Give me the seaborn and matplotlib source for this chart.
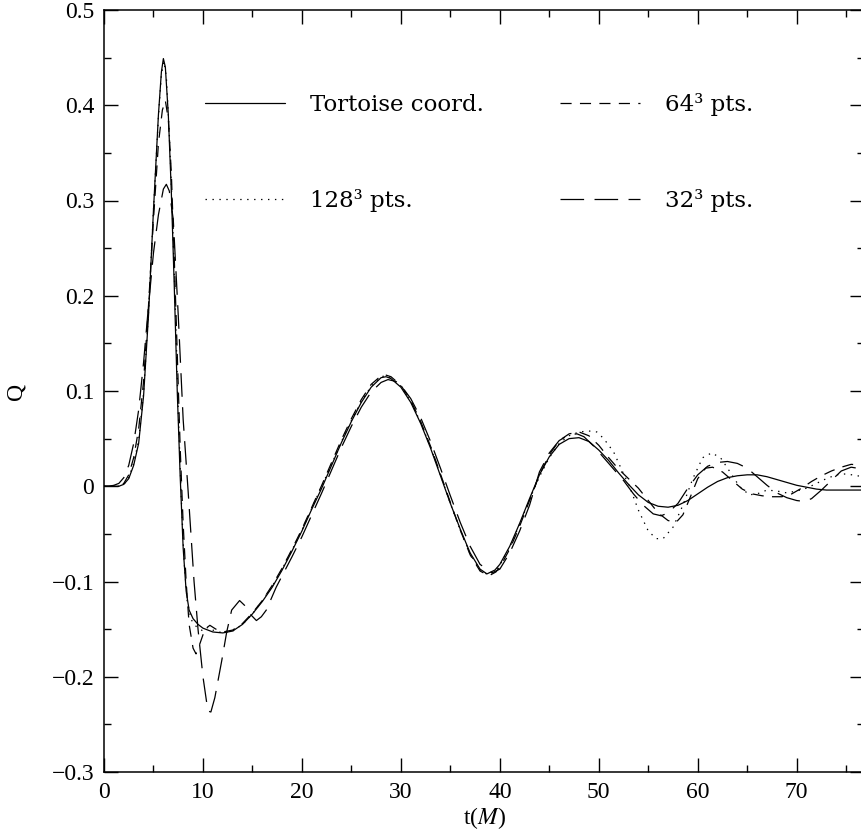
import matplotlib
matplotlib.use("Agg")
import matplotlib.pyplot as plt
import seaborn as sns
import numpy as np
from matplotlib.ticker import MultipleLocator

# Tortoise coord. (solid)
t_tort = [0, 1, 1.5, 2, 2.5, 3, 3.5, 4, 4.5, 5, 5.5, 5.8, 6.0, 6.2, 6.5, 6.8, 7.1, 7.4, 7.7,
          8.0, 8.3, 8.6, 9.0, 9.5, 10, 11, 12, 13, 14, 15, 16, 17, 18, 19, 20, 21, 22, 23, 24,
          25, 26, 27, 28, 28.5, 29, 30, 31, 32, 33, 34, 35, 36, 37, 38, 38.7, 39.5, 40, 41, 42,
          43, 44, 45, 46, 47, 48, 49, 50, 51, 52, 53, 54, 55, 56, 57, 58, 59, 60, 61, 62, 63,
          64, 65, 66, 67, 68, 69, 70, 71, 72, 73, 74, 75, 76.7]
q_tort = [0, 0, 0, 0.002, 0.008, 0.022, 0.045, 0.095, 0.18, 0.29, 0.39, 0.435, 0.449, 0.44,
          0.39, 0.31, 0.21, 0.10, 0.01, -0.065, -0.11, -0.13, -0.139, -0.145, -0.149, -0.153,
          -0.154, -0.152, -0.145, -0.134, -0.121, -0.106, -0.088, -0.068, -0.047, -0.024,
          -0.002, 0.022, 0.046, 0.068, 0.088, 0.104, 0.114, 0.115, 0.113, 0.104, 0.088, 0.066,
          0.040, 0.011, -0.018, -0.045, -0.070, -0.087, -0.092, -0.088, -0.082, -0.063, -0.039,
          -0.013, 0.012, 0.031, 0.044, 0.050, 0.051, 0.047, 0.038, 0.027, 0.014, 0.002, -0.009,
          -0.017, -0.021, -0.022, -0.020, -0.015, -0.008, -0.001, 0.005, 0.009, 0.011, 0.012,
          0.012, 0.010, 0.007, 0.004, 0.001, -0.001, -0.003, -0.004, -0.004, -0.004, -0.004]

# 128^3 pts. (dotted)
t_128 = [0, 1, 1.5, 2, 2.5, 3, 3.5, 4, 4.5, 5, 5.5, 5.8, 6.05, 6.3, 6.6, 6.9, 7.2, 7.5, 7.8,
         8.1, 8.4, 8.8, 9.3, 10, 10.5, 11, 12, 13, 14, 15, 16, 17, 18, 19, 20, 21, 22, 23, 24,
         25, 26, 27, 28, 28.5, 29, 30, 31, 32, 33, 34, 35, 36, 37, 38, 38.8, 39.5, 40, 41, 42,
         43, 44, 45, 46, 47, 48, 49, 49.8, 50.5, 51.5, 52.5, 53.1, 54, 55, 55.8, 56.5, 57.5,
         58.5, 59.5, 60.5, 61.4, 62.3, 63.2, 64.2, 65.2, 66, 67, 68, 69, 70, 71, 72, 73, 74,
         75, 76.7]
q_128 = [0, 0, 0, 0.002, 0.009, 0.024, 0.048, 0.098, 0.183, 0.29, 0.388, 0.432, 0.446, 0.43,
         0.37, 0.29, 0.19, 0.08, -0.01, -0.08, -0.12, -0.14, -0.147, -0.152, -0.148, -0.151,
         -0.154, -0.152, -0.145, -0.134, -0.120, -0.105, -0.087, -0.067, -0.046, -0.023, 0.0,
         0.023, 0.047, 0.069, 0.089, 0.105, 0.115, 0.116, 0.114, 0.105, 0.089, 0.067, 0.041,
         0.012, -0.018, -0.046, -0.071, -0.088, -0.093, -0.089, -0.083, -0.064, -0.040, -0.014,
         0.010, 0.030, 0.045, 0.053, 0.057, 0.058, 0.057, 0.050, 0.036, 0.013, 0.0, -0.025,
         -0.047, -0.055, -0.055, -0.043, -0.020, 0.008, 0.030, 0.035, 0.030, 0.016, 0.000,
         -0.009, -0.008, -0.004, -0.005, -0.007, -0.005, -0.002, 0.003, 0.008, 0.012, 0.013,
         0.010]

# 64^3 pts. (short dashes)
t_64 = [0, 1, 1.5, 2, 2.5, 3, 3.5, 4, 4.5, 5, 5.5, 5.9, 6.2, 6.5, 6.8, 7.1, 7.4, 7.7, 8.0,
        8.3, 8.6, 9.0, 9.3, 9.7, 10.2, 10.7, 11.3, 12, 13, 14, 15, 16, 17, 18, 19, 20, 21, 22,
        23, 24, 25, 26, 27, 28, 28.4, 29, 30, 31, 32, 33, 34, 35, 36, 37, 38, 38.9, 39.6, 40,
        41, 42, 43, 44, 45, 46, 47, 48, 49, 50, 51, 52, 53, 54, 55, 56, 57, 57.8, 58.5, 59.3,
        60, 60.8, 61.5, 62.5, 63.5, 64.5, 65.5, 66.5, 67.5, 68.5, 69.5, 70.5, 71.5, 72.5,
        73.5, 74.5, 75.5, 76.7]
q_64 = [0, 0, 0, 0.003, 0.012, 0.03, 0.06, 0.11, 0.19, 0.28, 0.36, 0.395, 0.405, 0.385, 0.33,
        0.24, 0.14, 0.04, -0.04, -0.10, -0.145, -0.170, -0.176, -0.165, -0.150, -0.146, -0.150,
        -0.153, -0.151, -0.144, -0.133, -0.120, -0.104, -0.086, -0.066, -0.045, -0.022, 0.001,
        0.025, 0.049, 0.071, 0.091, 0.107, 0.116, 0.117, 0.115, 0.106, 0.090, 0.068, 0.042,
        0.013, -0.017, -0.046, -0.072, -0.089, -0.094, -0.090, -0.085, -0.066, -0.042, -0.015,
        0.012, 0.033, 0.048, 0.055, 0.057, 0.053, 0.043, 0.030, 0.018, 0.008, -0.002, -0.015,
        -0.028, -0.036, -0.038, -0.030, -0.010, 0.008, 0.019, 0.020, 0.015, 0.006, -0.003,
        -0.008, -0.010, -0.011, -0.011, -0.008, -0.002, 0.005, 0.011, 0.016, 0.020, 0.023,
        0.022]

# 32^3 pts. (long dashes)
t_32 = [0, 0.5, 1, 1.5, 2, 2.5, 3, 3.5, 4, 4.5, 5, 5.5, 6.0, 6.3, 6.6, 7.0, 7.5, 8.0, 8.5,
        9.1, 9.5, 10.0, 10.5, 10.8, 11.2, 11.9, 12.4, 12.9, 13.7, 14.2, 14.75, 15.4, 15.9,
        16.4, 17.4, 18, 19, 20, 21, 22, 23, 24, 25, 26, 27, 28, 28.7, 29.5, 30, 31, 32, 33,
        34, 35, 36, 37, 38, 39.2, 40, 41, 42, 43, 44, 45, 46, 47, 47.8, 48.5, 49.5, 50.5,
        51.5, 52.5, 53.5, 54.5, 55.5, 56.3, 57, 58, 59, 60, 61, 62, 63, 64, 65, 66, 67, 68,
        69, 70, 70.8, 71.5, 72.5, 73.5, 74.5, 75.5, 76.7]
q_32 = [0, 0, 0.001, 0.003, 0.009, 0.022, 0.045, 0.08, 0.13, 0.19, 0.245, 0.285, 0.312, 0.317,
        0.31, 0.28, 0.18, 0.07, -0.005, -0.10, -0.15, -0.20, -0.236, -0.237, -0.222, -0.183,
        -0.153, -0.130, -0.120, -0.125, -0.134, -0.141, -0.137, -0.130, -0.106, -0.094,
        -0.074, -0.053, -0.030, -0.007, 0.017, 0.041, 0.063, 0.083, 0.099, 0.109, 0.112,
        0.110, 0.106, 0.092, 0.072, 0.047, 0.019, -0.010, -0.038, -0.063, -0.082, -0.091,
        -0.087, -0.070, -0.047, -0.020, 0.015, 0.035, 0.048, 0.054, 0.055, 0.052, 0.042,
        0.030, 0.018, 0.006, -0.008, -0.020, -0.029, -0.031, -0.028, -0.018, -0.002, 0.012,
        0.021, 0.025, 0.026, 0.024, 0.019, 0.010, 0.001, -0.007, -0.012, -0.015, -0.016,
        -0.013, -0.004, 0.006, 0.016, 0.020, 0.018]

labels = ["Tortoise coord.", "128³ pts.", "64³ pts.", "32³ pts."]
xtick_vals = [0, 10, 20, 30, 40, 50, 60, 70]
ytick_vals = [-0.3, -0.2, -0.1, 0, 0.1, 0.2, 0.3, 0.4, 0.5]
ytick_labels = ["−0.3", "−0.2", "−0.1", "0", "0.1", "0.2", "0.3", "0.4", "0.5"]

sns.set_style("ticks")
plt.rcParams["font.family"] = ["Liberation Serif", "DejaVu Serif"]
plt.rcParams["mathtext.fontset"] = "stix"
plt.rcParams["lines.scale_dashes"] = False
for key in ["text.color", "axes.labelcolor", "xtick.color", "ytick.color"]:
    plt.rcParams[key] = "black"

fig = plt.figure(figsize=(8.62, 8.35), dpi=100)
ax = fig.add_axes([104 / 862, 1 - 772 / 835, 760 / 862, 762 / 835])

styles = ["-", (0, (1.0, 4.0)), (0, (8.0, 6.0)), (0, (17.0, 7.5))]
series = [(t_tort, q_tort), (t_128, q_128), (t_64, q_64), (t_32, q_32)]
for (tt, qq), lab, ls in zip(series, labels, styles):
    sns.lineplot(x=np.array(tt), y=np.array(qq), ax=ax, color="black", linewidth=0.9,
                 linestyle=ls, label=lab, estimator=None)

ax.set_xlim(0, 76.8)
ax.set_ylim(-0.3, 0.5)
ax.set_xticks(xtick_vals)
ax.set_yticks(ytick_vals, labels=ytick_labels)
ax.xaxis.set_minor_locator(MultipleLocator(5))
ax.yaxis.set_minor_locator(MultipleLocator(0.05))
ax.tick_params(which="both", direction="in", top=True, right=True, color="black",
               labelsize=17, pad=7)
ax.tick_params(which="major", length=10, width=1.0)
ax.tick_params(which="minor", length=5, width=1.0)
for s in ax.spines.values():
    s.set_linewidth(1.1)
    s.set_color("black")

ax.set_xlabel("t($M$)", fontsize=17, labelpad=2)
ax.set_ylabel("Q", fontsize=17, labelpad=18)

ax.legend(loc="upper left", bbox_to_anchor=(0.133, 0.891), ncol=2, frameon=False,
          borderpad=0, borderaxespad=0, handlelength=3.5, handletextpad=1.1,
          columnspacing=3.3, labelspacing=3.2, prop={"family": "DejaVu Serif", "size": 16.5})

fig.savefig("out.png", dpi=100)
